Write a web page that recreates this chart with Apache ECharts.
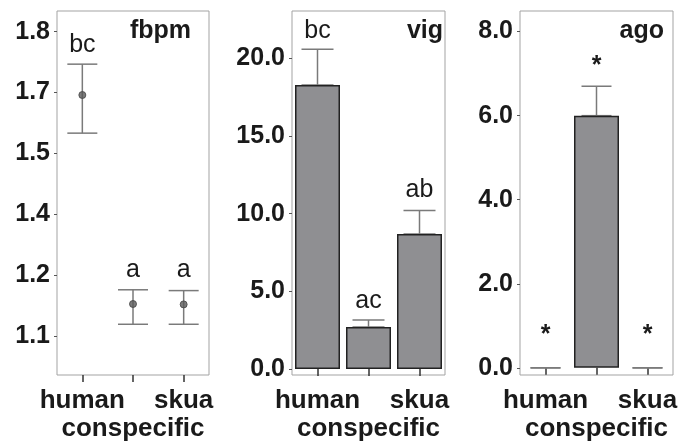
<!DOCTYPE html>
<html><head><meta charset="utf-8">
<script src="https://cdn.jsdelivr.net/npm/echarts@6/dist/echarts.min.js"></script>
<style>html,body{margin:0;padding:0;background:#fff}#c{width:689px;height:446px}</style>
</head><body><div id="c"></div>
<script>
// ---------- data ----------
const categories = ['human', 'conspecific', 'skua'];

const fbpmMean = [1.644, 1.129, 1.128];
const fbpmLow = [1.550, 1.079, 1.079];
const fbpmHigh = [1.720, 1.164, 1.162];
const fbpmLetters = ['bc', 'a', 'a'];
const fbpmLetterY = [1.767, 1.212, 1.212];
const fbpmTicks = [1.05, 1.2, 1.35, 1.5, 1.65, 1.8];
const fbpmTickLabels = ['1.1', '1.2', '1.4', '1.5', '1.7', '1.8'];

const vigMean = [18.3, 2.7, 8.7];
const vigHigh = [20.6, 3.15, 10.2];
const vigLetters = ['bc', 'ac', 'ab'];
const vigLetterY = [21.76, 4.39, 11.5];
const vigTicks = [0, 5, 10, 15, 20];
const vigTickLabels = ['0.0', '5.0', '10.0', '15.0', '20.0'];

const agoMean = [0, 6.0, 0];
const agoHigh = [0, 6.7, 0];
const agoLetters = ['*', '*', '*'];
const agoLetterY = [0.79, 7.19, 0.79];
const agoTicks = [0, 2, 4, 6, 8];
const agoTickLabels = ['0.0', '2.0', '4.0', '6.0', '8.0'];

const panelTitles = ['fbpm', 'vig', 'ago'];

// ---------- styles ----------
const FONT = '"Liberation Sans", Arial, Helvetica, sans-serif';
const TXT = '#1a1a1a';
const ERR = '#7a7a7a';
const BAR = '#8f8f92';
const grids = [
  {left: 57, top: 11, width: 152, height: 364},
  {left: 292, top: 11, width: 153, height: 364},
  {left: 520, top: 11, width: 153, height: 364}
];
const titleRight = [191, 443, 664];
const yRanges = [[0.954, 1.851], [-0.39, 23.06], [-0.17, 8.49]];
const tickSets = [[fbpmTicks, fbpmTickLabels], [vigTicks, vigTickLabels], [agoTicks, agoTickLabels]];

function errRender(capW, lowCap) {
  return function (params, api) {
    const x = api.value(0);
    const p1 = api.coord([x, api.value(1)]);
    const p2 = api.coord([x, api.value(2)]);
    const style = {stroke: ERR, lineWidth: 1.5, fill: null};
    const ch = [
      {type: 'line', shape: {x1: p1[0], y1: p1[1], x2: p2[0], y2: p2[1]}, style},
      {type: 'line', shape: {x1: p2[0] - capW / 2, y1: p2[1], x2: p2[0] + capW / 2, y2: p2[1]}, style}
    ];
    if (lowCap) ch.push({type: 'line', shape: {x1: p1[0] - capW / 2, y1: p1[1], x2: p1[0] + capW / 2, y2: p1[1]}, style});
    return {type: 'group', children: ch};
  };
}
function textRender(letters, bold) {
  return function (params, api) {
    const i = api.value(0);
    const p = api.coord([i, api.value(1)]);
    return {type: 'text', x: p[0], y: p[1], style: {
      text: letters[params.dataIndex], fill: TXT, fontFamily: FONT,
      fontSize: 25, fontWeight: bold ? 'bold' : 'normal', align: 'center', verticalAlign: 'middle'}};
  };
}

const xAxes = grids.map((g, k) => ({
  type: 'category', gridIndex: k, data: categories,
  axisLine: {show: false},
  axisTick: {show: true, alignWithLabel: true, length: 7, lineStyle: {color: '#333', width: 1.5}},
  axisLabel: {interval: 0, margin: 12, color: TXT, fontFamily: FONT, fontSize: 26, fontWeight: 'bold',
    lineHeight: 28, formatter: (v, i) => (i === 1 ? '\n' + v : v)},
  splitLine: {show: false}
}));
const yAxes = grids.map((g, k) => ({
  type: 'value', gridIndex: k, min: yRanges[k][0], max: yRanges[k][1],
  axisLine: {show: false},
  splitLine: {show: false},
  axisTick: {show: true, length: 3, customValues: tickSets[k][0], lineStyle: {color: '#555', width: 1}},
  axisLabel: {margin: 7, color: TXT, fontFamily: FONT, fontSize: 25, fontWeight: 'bold',
    customValues: tickSets[k][0],
    formatter: v => tickSets[k][1][tickSets[k][0].findIndex(t => Math.abs(t - v) < 1e-6)]}
}));

const idx = categories.map((c, i) => i);
const series = [
  // panel 1: fbpm
  {type: 'custom', xAxisIndex: 0, yAxisIndex: 0, renderItem: errRender(30, true), z: 2,
    data: idx.map(i => [i, fbpmLow[i], fbpmHigh[i]])},
  {type: 'scatter', xAxisIndex: 0, yAxisIndex: 0, symbolSize: 7, z: 3,
    itemStyle: {color: '#5a5a5a', borderColor: '#444', borderWidth: 1},
    data: idx.map(i => [i, fbpmMean[i]])},
  {type: 'custom', xAxisIndex: 0, yAxisIndex: 0, renderItem: textRender(fbpmLetters, false),
    data: idx.map(i => [i, fbpmLetterY[i]])},
  // panel 2: vig
  {type: 'custom', xAxisIndex: 1, yAxisIndex: 1, renderItem: errRender(32, true), z: 1,
    data: idx.map(i => [i, vigMean[i], vigHigh[i]])},
  {type: 'bar', xAxisIndex: 1, yAxisIndex: 1, barWidth: 45, z: 2,
    itemStyle: {color: BAR, borderColor: '#222', borderWidth: 1.5},
    data: vigMean.map(v => (v === 0 ? {value: v, itemStyle: {borderWidth: 0}} : v))},
  {type: 'custom', xAxisIndex: 1, yAxisIndex: 1, renderItem: textRender(vigLetters, false),
    data: idx.map(i => [i, vigLetterY[i]])},
  // panel 3: ago
  {type: 'custom', xAxisIndex: 2, yAxisIndex: 2, renderItem: errRender(30, true), z: 1,
    data: idx.map(i => [i, agoMean[i], agoHigh[i]])},
  {type: 'bar', xAxisIndex: 2, yAxisIndex: 2, barWidth: 45, z: 2,
    itemStyle: {color: BAR, borderColor: '#222', borderWidth: 1.5},
    data: agoMean.map(v => (v === 0 ? {value: v, itemStyle: {borderWidth: 0, opacity: 0}} : v))},
  {type: 'custom', xAxisIndex: 2, yAxisIndex: 2, renderItem: textRender(agoLetters, true),
    data: idx.map(i => [i, agoLetterY[i]])}
];

const chart = echarts.init(document.getElementById('c'), null, {renderer: 'canvas'});
chart.setOption({
  animation: false,
  backgroundColor: '#fff',
  grid: grids.map(g => Object.assign({show: true, borderColor: '#a3a3a3', borderWidth: 1,
    backgroundColor: 'transparent', containLabel: false, outerBoundsMode: 'none'}, g)),
  xAxis: xAxes,
  yAxis: yAxes,
  graphic: grids.map((g, k) => ({
    type: 'text', x: titleRight[k], y: 31, z: 10,
    style: {text: panelTitles[k], fill: TXT, fontFamily: FONT, fontSize: 25, fontWeight: 'bold',
      align: 'right', verticalAlign: 'middle'}
  })),
  series
});
</script></body></html>
